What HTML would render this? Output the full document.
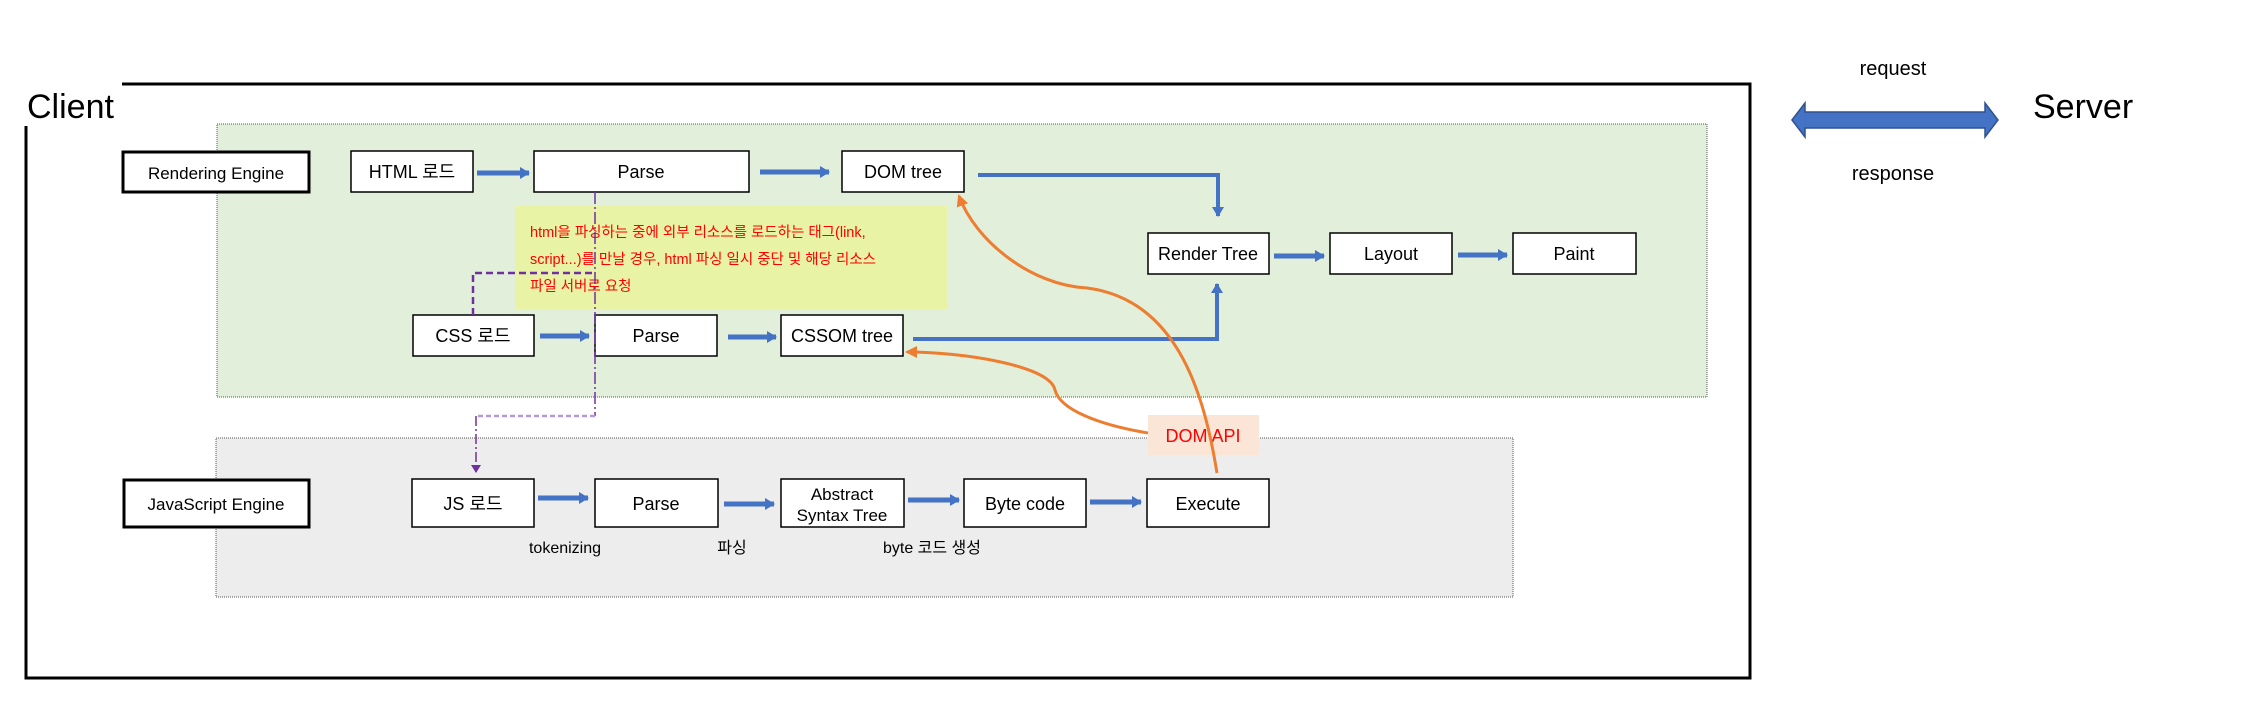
<!DOCTYPE html>
<html><head><meta charset="utf-8"><style>
html,body{margin:0;padding:0;background:#fff;}
svg text{font-family:"Liberation Sans","Noto Sans CJK KR",sans-serif;}
</style></head><body>
<svg width="2244" height="721" viewBox="0 0 2244 721" xmlns="http://www.w3.org/2000/svg">
<defs>
<marker id="ab" markerUnits="userSpaceOnUse" markerWidth="10" markerHeight="12" refX="9" refY="6" orient="auto"><path d="M0,0 L10,6 L0,12 z" fill="#4472c4"/></marker>
<marker id="ao" markerUnits="userSpaceOnUse" markerWidth="12" markerHeight="12" refX="10" refY="6" orient="auto"><path d="M0,0 L12,6 L0,12 z" fill="#ed7d31"/></marker>
<marker id="ap" markerUnits="userSpaceOnUse" markerWidth="8" markerHeight="12" refX="7" refY="6" orient="auto"><path d="M0,1 L8,6 L0,11 z" fill="#7030a0"/></marker>
</defs>
<path d="M122,84 H1750 V678 H26 V126" fill="none" stroke="#000" stroke-width="3"/>
<text x="27" y="118" font-size="34">Client</text>
<rect x="217" y="124" width="1490" height="273" fill="#e2efda" stroke="#555" stroke-width="1" stroke-dasharray="1,1"/>
<rect x="216" y="438" width="1297" height="159" fill="#ededed" stroke="#555" stroke-width="1" stroke-dasharray="1,1"/>
<rect x="515" y="206" width="432" height="103" fill="#e9f3a5"/>
<g fill="#ff0000" font-size="14.5">
<text x="530" y="237">html을 파싱하는 중에 외부 리소스를 로드하는 태그(link,</text>
<text x="530" y="264">script...)를 만날 경우, html 파싱 일시 중단 및 해당 리소스</text>
<text x="530" y="291">파일 서버로 요청</text>
</g>
<rect x="123" y="152" width="186" height="40" fill="#fff" stroke="#000" stroke-width="3"/>
<text x="216" y="179" font-size="17" text-anchor="middle">Rendering Engine</text>
<rect x="124" y="480" width="185" height="47" fill="#fff" stroke="#000" stroke-width="3"/>
<text x="216" y="510" font-size="17" text-anchor="middle">JavaScript Engine</text>
<g fill="#fff" stroke="#000" stroke-width="1.5">
<rect x="351" y="151" width="122" height="41"/>
<rect x="534" y="151" width="215" height="41"/>
<rect x="842" y="151" width="122" height="41"/>
<rect x="413" y="315" width="121" height="41"/>
<rect x="595" y="315" width="122" height="41"/>
<rect x="781" y="315" width="122" height="41"/>
<rect x="1148" y="233" width="121" height="41"/>
<rect x="1330" y="233" width="122" height="41"/>
<rect x="1513" y="233" width="123" height="41"/>
<rect x="412" y="479" width="122" height="48"/>
<rect x="595" y="479" width="123" height="48"/>
<rect x="781" y="479" width="123" height="48"/>
<rect x="964" y="479" width="122" height="48"/>
<rect x="1147" y="479" width="122" height="48"/>
</g>
<g font-size="18" text-anchor="middle" fill="#000">
<text x="412" y="178">HTML 로드</text>
<text x="641" y="178">Parse</text>
<text x="903" y="178">DOM tree</text>
<text x="473" y="342">CSS 로드</text>
<text x="656" y="342">Parse</text>
<text x="842" y="342">CSSOM tree</text>
<text x="1208" y="260">Render Tree</text>
<text x="1391" y="260">Layout</text>
<text x="1574" y="260">Paint</text>
<text x="473" y="510">JS 로드</text>
<text x="656" y="510">Parse</text>
<text x="842" y="500" font-size="17">Abstract</text>
<text x="842" y="521" font-size="17">Syntax Tree</text>
<text x="1025" y="510">Byte code</text>
<text x="1208" y="510">Execute</text>
</g>
<g font-size="16" text-anchor="middle">
<text x="565" y="553">tokenizing</text>
<text x="732" y="553">파싱</text>
<text x="932" y="553">byte 코드 생성</text>
</g>
<g stroke="#4472c4" stroke-width="5" fill="none" marker-end="url(#ab)">
<line x1="477" y1="173" x2="529" y2="173"/>
<line x1="760" y1="172" x2="829" y2="172"/>
<line x1="540" y1="336" x2="589" y2="336"/>
<line x1="728" y1="337" x2="776" y2="337"/>
<line x1="1274" y1="256" x2="1324" y2="256"/>
<line x1="1458" y1="255" x2="1507" y2="255"/>
<line x1="538" y1="498" x2="588" y2="498"/>
<line x1="724" y1="504" x2="774" y2="504"/>
<line x1="908" y1="500" x2="959" y2="500"/>
<line x1="1090" y1="502" x2="1141" y2="502"/>
<path d="M978,175 H1218 V216" stroke-width="4"/>
<path d="M913,339 H1217 V284" stroke-width="4"/>
</g>
<path d="M595,192 V416" stroke="#7030a0" stroke-width="1.5" stroke-dasharray="12,3,2,3" fill="none"/>
<path d="M473,315 V273 H595" stroke="#7030a0" stroke-width="2.5" stroke-dasharray="7,4" fill="none"/>
<path d="M595,416 H476" stroke="#b49ad6" stroke-width="2.5" stroke-dasharray="5,3" fill="none"/>
<path d="M476,416 V472" stroke="#7030a0" stroke-width="1.5" stroke-dasharray="10,3,2,3" fill="none" marker-end="url(#ap)"/>
<rect x="1148" y="415" width="111" height="40" fill="#fbe5d6"/>
<text x="1203" y="442" font-size="18" fill="#ff0000" text-anchor="middle">DOM API</text>
<g stroke="#ed7d31" stroke-width="3" fill="none" marker-end="url(#ao)">
<path d="M1217,473 C1205,400 1180,300 1087,288 C1030,285 975,240 959,196"/>
<path d="M1148,433 C1100,425 1060,410 1055,390 C1050,365 960,352 907,352"/>
</g>
<polygon points="1792,120 1805,103 1805,112 1985,112 1985,103 1998,120 1985,137 1985,128 1805,128 1805,137" fill="#4472c4" stroke="#2f528f" stroke-width="1.5"/>
<text x="1893" y="75" font-size="20" text-anchor="middle">request</text>
<text x="1893" y="180" font-size="20" text-anchor="middle">response</text>
<text x="2033" y="118" font-size="34">Server</text>
</svg>
</body></html>
